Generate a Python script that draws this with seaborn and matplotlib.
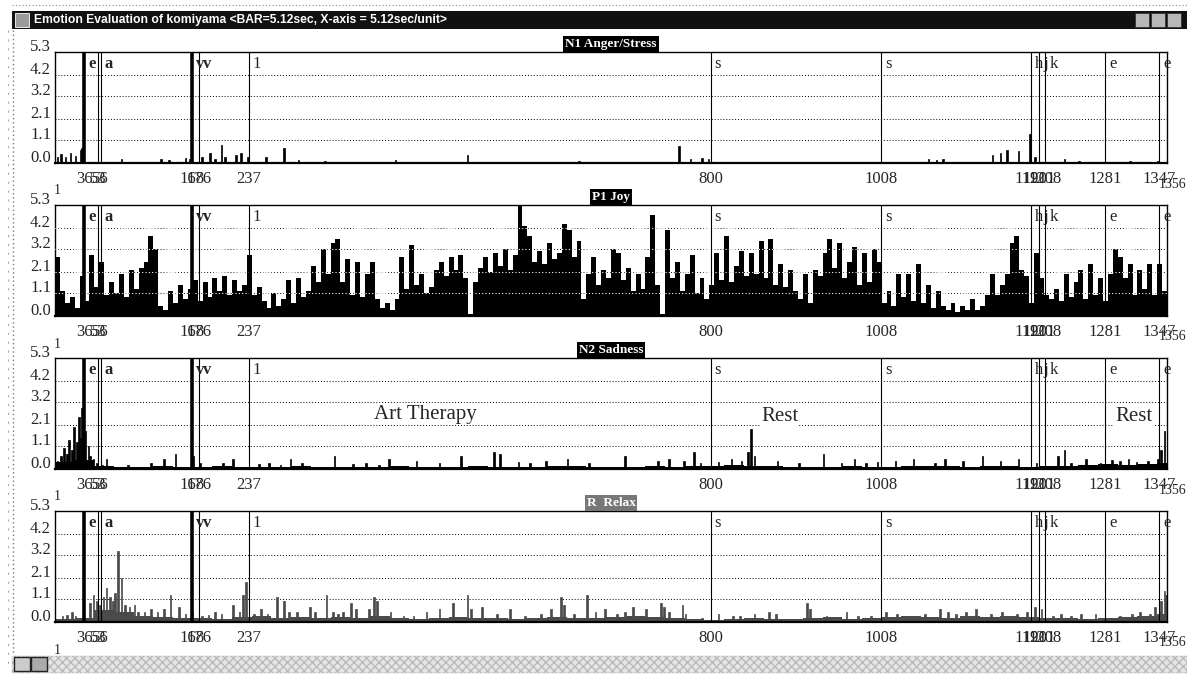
import numpy as np
import pandas as pd
import matplotlib
matplotlib.use("Agg")
import matplotlib.pyplot as plt
import seaborn as sns
from matplotlib.patches import Rectangle
from matplotlib.lines import Line2D

sns.set_theme(style="white")
plt.rcParams['font.family'] = ['Liberation Serif', 'DejaVu Serif']
plt.rcParams['hatch.color'] = '#bbbbbb'

# ---------------- data ----------------
x_first, x_last = 1, 1356
y_ticks = [0.0, 1.1, 2.1, 3.2, 4.2, 5.3]
y_tick_text = ["0.0", "1.1", "2.1", "3.2", "4.2", "5.3"]

panel_titles = ["N1 Anger/Stress", "P1 Joy", "N2 Sadness", "R  Relax"]

mark_pos = [36, 53, 56, 168, 176, 237, 800, 1008, 1191, 1201, 1208, 1281, 1347]
mark_text = ["e", "", "a", "v", "v", "1", "s", "s", "h", "j", "k", "e", "e"]
mark_bold = [True, False, False, True, False, False, False, False, False, False, False, False, False]
tick_text = ["36", "53", "56", "168", "176", "237", "800", "1008", "1191", "1201", "1208", "1281", "1347"]

# Joy: values read every 6 units
joy_step = 6
joy_values = [
    2.8, 1.2, 0.6, 0.9, 0.4, 1.9, 0.7, 2.9, 1.4, 2.6,
    1.0, 1.6, 1.1, 2.0, 0.9, 2.2, 1.3, 2.3, 2.6, 3.8,
    3.2, 0.5, 0.3, 1.2, 0.6, 1.5, 0.8, 1.3, 1.7, 0.7,
    1.6, 0.9, 1.8, 1.2, 1.9, 1.0, 1.7, 1.2, 1.5, 2.9,
    1.0, 1.4, 0.7, 0.4, 1.1, 0.5, 0.8, 1.7, 0.6, 1.8,
    0.9, 1.2, 2.4, 1.6, 3.2, 2.0, 3.5, 3.7, 1.6, 2.7,
    1.0, 2.6, 0.9, 2.0, 2.6, 0.8, 0.4, 0.6, 0.3, 0.8,
    2.8, 1.3, 3.4, 1.5, 2.0, 1.1, 1.4, 2.2, 2.6, 1.9,
    2.8, 2.2, 2.9, 1.8, 0.1, 1.6, 2.3, 2.8, 2.1, 3.0,
    2.4, 3.2, 2.2, 2.9, 5.3, 4.3, 3.8, 2.6, 3.1, 2.5,
    3.5, 2.7, 3.0, 4.4, 4.1, 2.8, 3.6, 0.8, 2.0, 2.8,
    1.5, 2.2, 1.8, 3.2, 3.0, 1.7, 2.3, 1.2, 2.0, 1.3,
    2.8, 4.8, 1.5, 0.1, 4.1, 1.8, 2.6, 1.2, 2.0, 2.9,
    1.1, 1.8, 0.8, 1.5, 3.0, 1.7, 3.8, 1.6, 2.4, 3.1,
    1.9, 3.0, 2.0, 3.6, 1.8, 3.7, 1.5, 2.5, 1.4, 2.2,
    1.2, 0.8, 2.0, 0.6, 2.2, 1.9, 3.0, 3.7, 2.3, 3.5,
    1.8, 2.6, 3.3, 1.5, 3.0, 1.6, 3.2, 2.6, 0.6, 1.2,
    0.5, 2.0, 0.9, 2.0, 0.7, 2.5, 0.6, 1.5, 0.4, 1.2,
    0.5, 0.3, 0.6, 0.2, 0.5, 0.3, 0.8, 0.3, 0.5, 1.0,
    2.0, 1.0, 1.5, 2.0, 3.5, 3.8, 2.2, 1.9, 0.6, 3.0,
    1.8, 1.0, 0.8, 1.3, 0.7, 2.0, 0.9, 1.6, 2.2, 0.8,
    2.5, 1.0, 1.8, 0.7, 2.0, 3.2, 2.8, 1.8, 2.5, 1.0,
    2.2, 1.3, 2.5, 1.0, 2.5, 1.2,
]

anger_pos = [3, 8, 14, 20, 26, 31, 34, 82, 130, 139, 160, 165, 180, 190, 195, 203, 207,
             222, 227, 235, 257, 279, 297, 330, 415, 503, 640, 762, 775, 790, 797,
             1065, 1075, 1083, 1144, 1153, 1162, 1175, 1190, 1196, 1232, 1250, 1311, 1346]
anger_val = [0.3, 0.45, 0.3, 0.5, 0.35, 0.6, 0.7, 0.2, 0.2, 0.15, 0.25, 0.2, 0.3, 0.5, 0.2, 0.85, 0.3,
             0.4, 0.5, 0.3, 0.3, 0.7, 0.15, 0.1, 0.15, 0.4, 0.1, 0.8, 0.2, 0.25, 0.2,
             0.2, 0.15, 0.2, 0.4, 0.5, 0.6, 0.55, 1.4, 0.3, 0.2, 0.1, 0.1, 0.1]

floor_step = 24
sad_floor = [0.35, 0.45, 0.15, 0.08, 0.1, 0.12, 0.1, 0.08, 0.12, 0.1,
             0.08, 0.1, 0.12, 0.08, 0.1, 0.1, 0.08, 0.12, 0.1, 0.08,
             0.1, 0.12, 0.1, 0.08, 0.1, 0.12, 0.15, 0.1, 0.08, 0.1,
             0.12, 0.1, 0.15, 0.12, 0.2, 0.15, 0.12, 0.1, 0.08, 0.1,
             0.12, 0.1, 0.1, 0.12, 0.15, 0.12, 0.1, 0.12, 0.15, 0.1,
             0.12, 0.15, 0.2, 0.25, 0.2, 0.22, 0.3]
sad_pos = [4, 8, 12, 15, 18, 21, 24, 27, 30, 32, 34, 38, 41, 44, 47, 52, 58, 64, 90, 117, 134, 148,
           170, 178, 205, 218, 249, 262, 275, 288, 301, 341, 363, 380, 395, 407, 442, 469, 495,
           535, 544, 565, 580, 600, 626, 652, 696, 736, 749, 767, 780, 788, 810, 825, 838, 845,
           849, 853, 881, 907, 938, 959, 975, 990, 1003, 1025, 1047, 1073, 1086, 1108, 1131,
           1153, 1175, 1198, 1223, 1232, 1240, 1257, 1275, 1290, 1300, 1310, 1319, 1333, 1345,
           1350, 1354]
sad_val = [0.4, 0.6, 1.0, 0.7, 1.4, 0.9, 2.0, 1.3, 2.5, 1.5, 2.9, 1.8, 1.1, 0.6, 0.5, 0.3, 0.2, 0.5, 0.2, 0.3, 0.5, 0.7,
           0.6, 0.3, 0.3, 0.5, 0.25, 0.3, 0.2, 0.5, 0.3, 0.6, 0.25, 0.3, 0.2, 0.5, 0.4, 0.3, 0.6,
           0.8, 0.7, 0.35, 0.3, 0.4, 0.5, 0.3, 0.6, 0.4, 0.5, 0.4, 0.8, 0.3, 0.35, 0.5, 0.4, 0.8,
           1.9, 0.6, 0.4, 0.3, 0.7, 0.3, 0.5, 0.3, 0.35, 0.4, 0.5, 0.3, 0.5, 0.4, 0.6,
           0.4, 0.5, 0.3, 0.6, 0.9, 0.3, 0.5, 0.3, 0.45, 0.4, 0.5, 0.35, 0.4, 0.5,
           0.9, 1.8]

relax_floor = [0.15, 0.2, 0.55, 0.5, 0.3, 0.25, 0.2, 0.2, 0.15, 0.25,
               0.3, 0.2, 0.25, 0.2, 0.25, 0.2, 0.3, 0.2, 0.15, 0.2,
               0.25, 0.2, 0.2, 0.15, 0.2, 0.25, 0.2, 0.2, 0.25, 0.3,
               0.25, 0.2, 0.15, 0.1, 0.15, 0.2, 0.15, 0.15, 0.2, 0.25,
               0.15, 0.2, 0.25, 0.3, 0.25, 0.2, 0.3, 0.25, 0.3, 0.25,
               0.2, 0.2, 0.15, 0.2, 0.25, 0.3, 0.4]
relax_pos = [10, 16, 21, 26, 43, 47, 51, 55, 60, 64, 67, 71, 74, 78, 81, 86, 91, 97, 102, 110, 118,
             125, 133, 141, 151, 160, 167, 180, 188, 196, 204, 217, 225, 230, 234, 243, 252, 259,
             272, 280, 286, 295, 312, 318, 332, 339, 346, 352, 361, 368, 383, 390, 393, 410, 425,
             437, 454, 470, 485, 503, 507, 521, 539, 556, 574, 594, 605, 618, 622, 634, 650, 660,
             672, 685, 695, 706, 721, 739, 744, 750, 765, 770, 790, 810, 827, 836, 854, 872, 880,
             918, 922, 942, 965, 980, 996, 1013, 1027, 1044, 1062, 1080, 1089, 1100, 1111, 1124,
             1142, 1155, 1165, 1173, 1185, 1195, 1204, 1217, 1228, 1240, 1252, 1270, 1288, 1300,
             1314, 1323, 1335, 1341, 1347, 1350, 1353, 1356]
relax_val = [0.3, 0.35, 0.5, 0.3, 0.9, 1.3, 1.0, 0.8, 1.2, 1.6, 1.2, 1.0, 1.4, 3.4, 2.1, 0.8, 0.7, 0.8, 0.5, 0.5, 0.6,
             0.5, 0.6, 1.3, 0.7, 0.4, 0.5, 0.3, 0.35, 0.5, 0.4, 0.8, 0.5, 1.3, 1.9, 0.4, 0.6, 0.4,
             1.2, 1.0, 0.5, 0.5, 0.7, 0.5, 1.3, 0.5, 0.4, 0.5, 0.9, 0.6, 0.6, 1.2, 1.0, 0.5, 0.3,
             0.3, 0.5, 0.6, 0.9, 1.3, 0.6, 0.7, 0.4, 0.6, 0.3, 0.4, 0.6, 1.2, 0.8, 0.4, 1.3, 0.5,
             0.6, 0.4, 0.5, 0.7, 0.6, 0.9, 0.7, 0.5, 0.8, 0.4, 0.2, 0.4, 0.3, 0.3, 0.4, 0.5, 0.4,
             0.9, 0.6, 0.3, 0.5, 0.3, 0.3, 0.5, 0.4, 0.3, 0.4, 0.6, 0.5, 0.4, 0.5, 0.6,
             0.4, 0.5, 0.3, 0.4, 0.5, 0.7, 0.6, 0.3, 0.4, 0.3, 0.4, 0.4, 0.2, 0.3,
             0.4, 0.5, 0.4, 0.7, 0.5, 1.0, 1.5, 1.3]

sad_notes = ["Art Therapy", "Rest", "Rest"]
sad_note_x = [452, 884, 1316]
sad_note_y = [2.6, 2.5, 2.5]

# ---------------- figure ----------------
W, H = 1187, 677
fig = plt.figure(figsize=(W / 100, H / 100), dpi=100)
fig.patch.set_facecolor("white")

def fx(px):
    return px / W

def fy(py):
    return 1 - py / H

ax_left_px, ax_right_px = 55, 1167
baselines = [163, 316, 469, 622]
ax_h_px = 111

spike_edges = list(np.arange(x_first - 0.5, x_last + 1.5, 2.0))
joy_edges_arr = x_first - 0.5 + joy_step * np.arange(len(joy_values) + 1)
joy_edges = list(joy_edges_arr)
joy_pos = list(joy_edges_arr[:-1] + joy_step / 2)
floor_edges_arr = x_first - 0.5 + floor_step * np.arange(len(sad_floor) + 1)
floor_edges = list(floor_edges_arr)
floor_pos = list(floor_edges_arr[:-1] + floor_step / 2)

axes = []
for i, b in enumerate(baselines):
    ax = fig.add_axes([fx(ax_left_px), fy(b), fx(ax_right_px - ax_left_px), ax_h_px / H])
    ax.set_facecolor("white")
    axes.append(ax)

def draw_hist(ax, pos, val, edges, color, lw):
    df = pd.DataFrame({"x": pos, "w": val})
    sns.histplot(data=df, x="x", weights="w", bins=edges, color=color, alpha=1,
                 linewidth=lw, edgecolor=color, ax=ax, zorder=2)

# panel 1: anger
draw_hist(axes[0], anger_pos, anger_val, spike_edges, "black", 0.5)
# panel 2: joy
draw_hist(axes[1], joy_pos, joy_values, joy_edges, "black", 0.0)
# panel 3: sadness
draw_hist(axes[2], floor_pos, sad_floor, floor_edges, "black", 0.0)
draw_hist(axes[2], sad_pos, sad_val, spike_edges, "black", 0.5)
# panel 4: relax
draw_hist(axes[3], floor_pos, relax_floor, floor_edges, "#4a4a4a", 0.0)
draw_hist(axes[3], relax_pos, relax_val, spike_edges, "#4a4a4a", 0.5)

for i, ax in enumerate(axes):
    ax.set_xlim(x_first - 0.5, x_last + 0.5)
    ax.set_ylim(0, y_ticks[-1])
    ax.set_xticks([])
    ax.set_yticks([])
    ax.set_xlabel("")
    ax.set_ylabel("")
    for s in ax.spines.values():
        s.set_visible(True)
        s.set_color("black")
        s.set_linewidth(1.0)
    ax.spines["bottom"].set_linewidth(1.6)
    for v in y_ticks[1:-1]:
        ax.axhline(v, color="black", lw=0.7, ls=(0, (1, 2)), zorder=1)
        if i == 1:
            ax.axhline(v, color="white", lw=0.8, ls=(0, (1, 2)), zorder=3)
    for v, t in zip(y_ticks, y_tick_text):
        ax.annotate(t, xy=(0, v), xycoords=("axes fraction", "data"), xytext=(-4, 5),
                    textcoords="offset pixels", ha="right", va="center", fontsize=12)
    for p, t, bld in zip(mark_pos, mark_text, mark_bold):
        ax.axvline(p, color="black", lw=2.6 if bld else 0.8, zorder=3)
        if t:
            ax.annotate(t, xy=(p, 1), xycoords=("data", "axes fraction"), xytext=(4, -4),
                        textcoords="offset pixels", ha="left", va="top", fontsize=12,
                        fontweight="bold" if p < 200 else "normal", zorder=4)
    for p, t in zip(mark_pos, tick_text):
        ax.annotate(t, xy=(p, 0), xycoords=("data", "axes fraction"), xytext=(0, -16),
                    textcoords="offset pixels", ha="center", va="center", fontsize=12)
    ax.annotate(str(x_first), xy=(x_first, 0), xycoords=("data", "axes fraction"), xytext=(2, -28),
                textcoords="offset pixels", ha="center", va="center", fontsize=10)
    ax.annotate(str(x_last), xy=(x_last, 0), xycoords=("data", "axes fraction"), xytext=(6, -21),
                textcoords="offset pixels", ha="center", va="center", fontsize=10)
    ax.annotate(panel_titles[i], xy=(0.5, 1), xycoords="axes fraction", xytext=(0, 8),
                textcoords="offset pixels", ha="center", va="center", fontsize=9.5,
                color="white", fontweight="bold",
                bbox=dict(boxstyle="square,pad=0.15", fc="#777777" if i == 3 else "black", ec="none"))

for t, x, y in zip(sad_notes, sad_note_x, sad_note_y):
    axes[2].text(x, y, t, ha="center", va="center", fontsize=15, zorder=5,
                 bbox=dict(boxstyle="square,pad=0.05", fc="white", ec="none"))

# ---------------- window chrome ----------------
fig.patches.append(Rectangle((fx(12), fy(29)), fx(1175), 18 / H, transform=fig.transFigure,
                             fc="#111111", ec="none", zorder=0))
fig.patches.append(Rectangle((fx(15), fy(27)), fx(14), 14 / H, transform=fig.transFigure,
                             fc="#9a9a9a", ec="white", lw=0.6, zorder=1))
for bx in [1135, 1151, 1167]:
    fig.patches.append(Rectangle((fx(bx), fy(27)), fx(14), 14 / H, transform=fig.transFigure,
                                 fc="#b8b8b8", ec="#333333", lw=0.6, zorder=1))
fig.text(fx(34), fy(20), "Emotion Evaluation of komiyama <BAR=5.12sec, X-axis = 5.12sec/unit>",
         color="white", fontsize=8.7, fontweight="bold", family=["Liberation Sans", "DejaVu Sans"],
         ha="left", va="center")
fig.lines.append(Line2D([fx(12), fx(1187)], [fy(5), fy(5)], transform=fig.transFigure,
                        color="#888888", lw=0.8, ls=(0, (1, 2))))
fig.lines.append(Line2D([fx(13), fx(13)], [fy(30), fy(655)], transform=fig.transFigure,
                        color="#777777", lw=1.0, ls=(0, (1, 2))))
fig.lines.append(Line2D([fx(8), fx(8)], [fy(30), fy(670)], transform=fig.transFigure,
                        color="#aaaaaa", lw=0.8, ls=(0, (2, 6))))
fig.patches.append(Rectangle((fx(12), fy(673)), fx(1175), 17 / H, transform=fig.transFigure,
                             fc="#e6e6e6", ec="#bbbbbb", hatch="xxxx", lw=0.3, zorder=0))
fig.patches.append(Rectangle((fx(14), fy(671)), fx(16), 14 / H, transform=fig.transFigure,
                             fc="#cccccc", ec="#222222", lw=1.0, zorder=1))
fig.patches.append(Rectangle((fx(31), fy(671)), fx(16), 14 / H, transform=fig.transFigure,
                             fc="#aaaaaa", ec="#222222", lw=1.0, zorder=1))

fig.savefig("out.png", dpi=100, facecolor="white")
